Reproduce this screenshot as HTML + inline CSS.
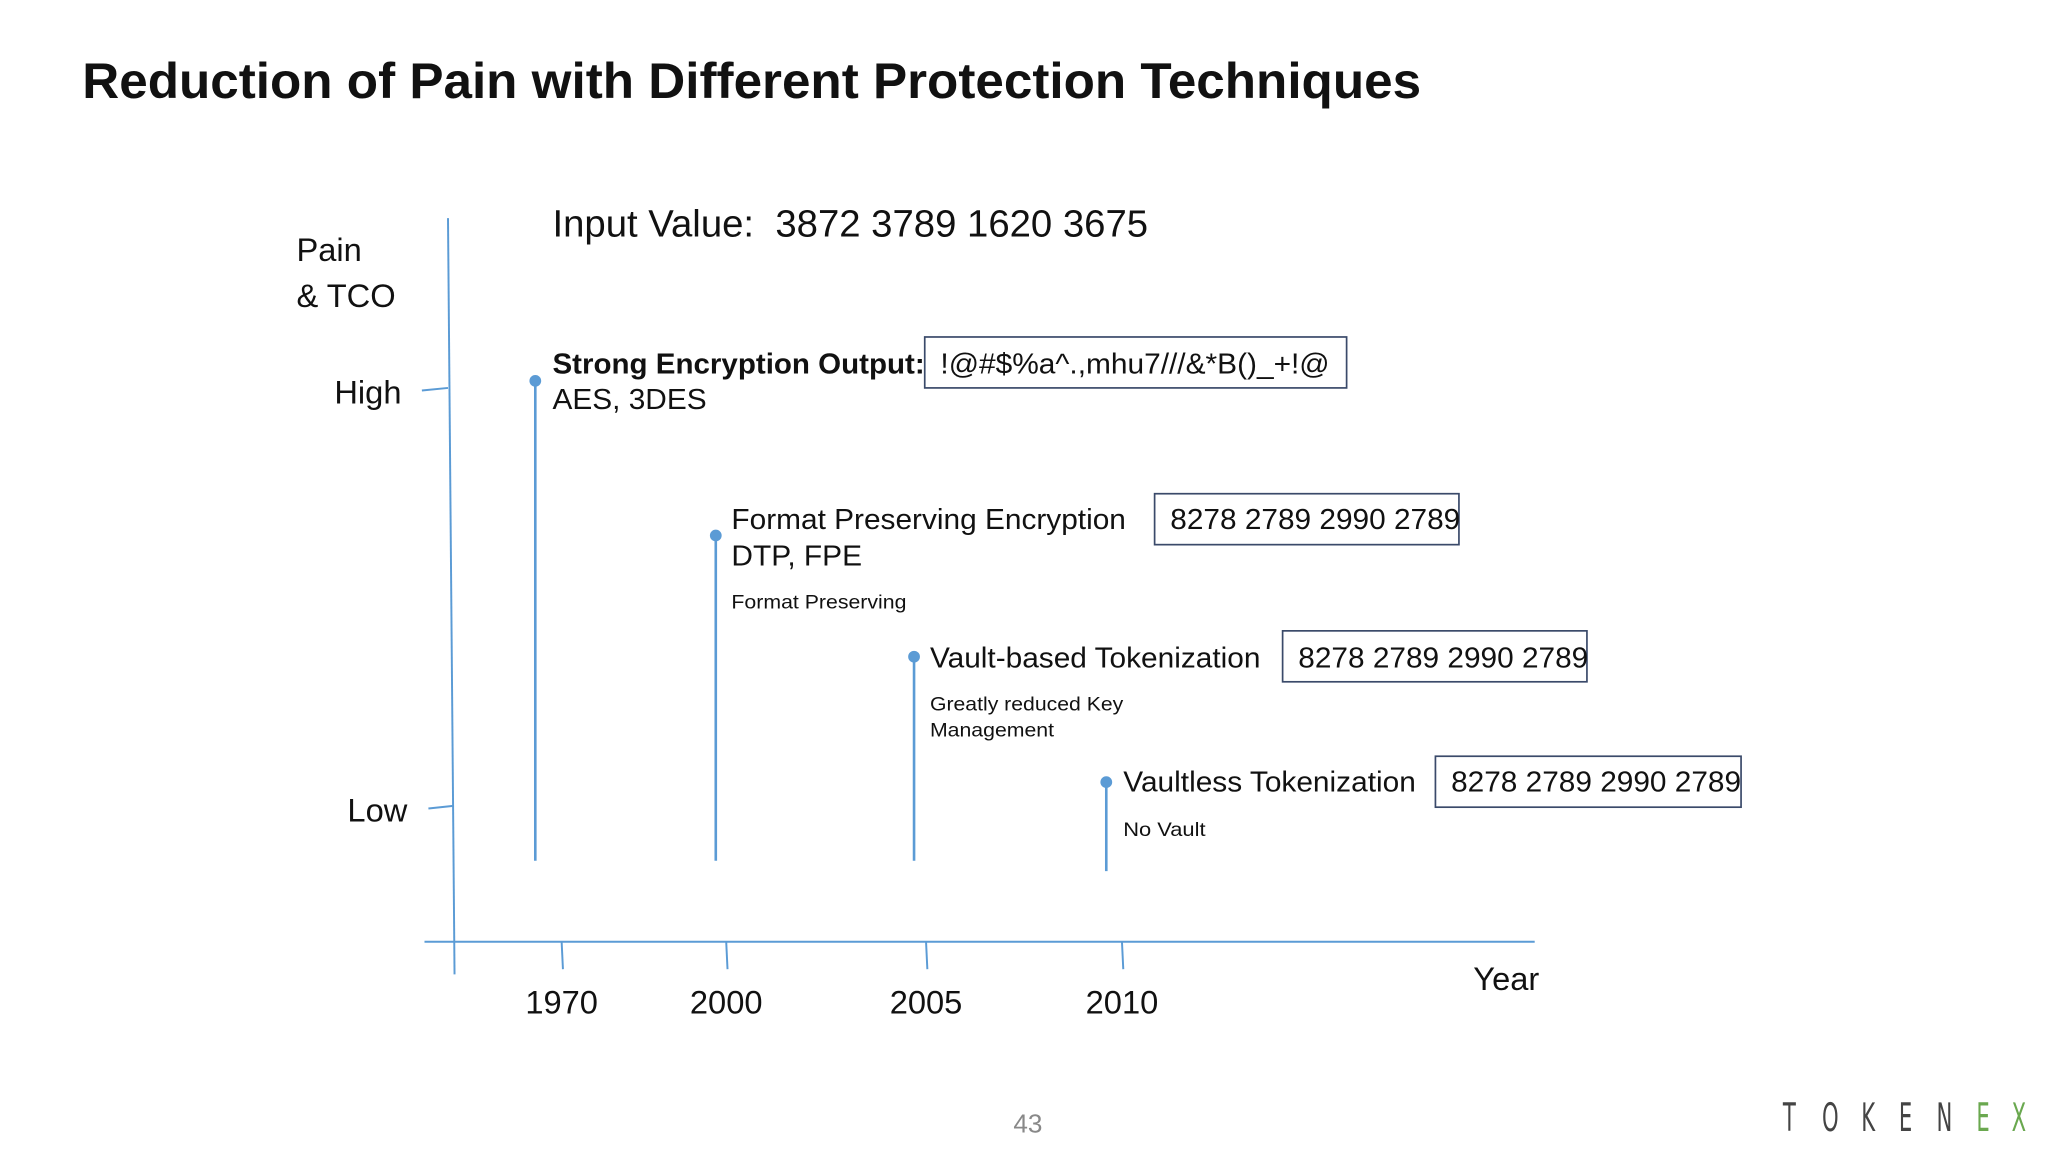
<!DOCTYPE html>
<html><head><meta charset="utf-8"><style>
html,body{margin:0;padding:0;background:#fff}
svg{display:block}
text{font-family:"Liberation Sans",sans-serif;fill:#111}
</style></head><body>
<svg id="chart" width="2048" height="1152" viewBox="0 0 1568 882" xmlns="http://www.w3.org/2000/svg">
<rect x="0" y="0" width="1568" height="882" fill="#fff"/>
<text x="63" y="75" font-size="38" font-weight="bold" textLength="1025" lengthAdjust="spacingAndGlyphs">Reduction of Pain with Different Protection Techniques</text>
<g id="axes" stroke="#5b9bd5" stroke-width="1.5" fill="none">
<line x1="343" y1="167" x2="348" y2="746"/>
<line x1="325" y1="721" x2="1175" y2="721"/>
<line x1="323" y1="299" x2="343" y2="297"/>
<line x1="328" y1="619" x2="347" y2="617"/>
</g>
<text font-size="25"><tspan x="227" y="200">Pain</tspan><tspan x="227" y="235">&amp; TCO</tspan></text>
<text x="256" y="309" font-size="25">High</text>
<text x="266" y="629" font-size="25">Low</text>
<text x="1128" y="758" font-size="25">Year</text>
<text x="423" y="181" font-size="29" textLength="456" lengthAdjust="spacingAndGlyphs">Input Value:&#160; 3872 3789 1620 3675</text>
<g id="marks"></g>
<g id="annotations">
<text x="423" y="286" font-size="22" font-weight="bold" textLength="285" lengthAdjust="spacingAndGlyphs">Strong Encryption Output:</text>
<text x="423" y="313" font-size="22" textLength="118" lengthAdjust="spacingAndGlyphs">AES, 3DES</text>
<rect x="708" y="258" width="323" height="39" fill="none" stroke="#3a4a6a" stroke-width="1.3"/>
<text x="720" y="286" font-size="22" textLength="298" lengthAdjust="spacingAndGlyphs">!@#$%a^.,mhu7///&amp;*B()_+!@</text>

<text x="560" y="405" font-size="22" textLength="302" lengthAdjust="spacingAndGlyphs">Format Preserving Encryption</text>
<text x="560" y="433" font-size="22" textLength="100" lengthAdjust="spacingAndGlyphs">DTP, FPE</text>
<text x="560" y="466" font-size="15" textLength="134" lengthAdjust="spacingAndGlyphs">Format Preserving</text>
<rect x="884" y="378" width="233" height="39" fill="none" stroke="#3a4a6a" stroke-width="1.3"/>
<text x="896" y="405" font-size="22" textLength="222" lengthAdjust="spacingAndGlyphs">8278 2789 2990 2789</text>

<text x="712" y="511" font-size="22" textLength="253" lengthAdjust="spacingAndGlyphs">Vault-based Tokenization</text>
<text font-size="15"><tspan x="712" y="544" textLength="148" lengthAdjust="spacingAndGlyphs">Greatly reduced Key</tspan><tspan x="712" y="564" textLength="95" lengthAdjust="spacingAndGlyphs">Management</tspan></text>
<rect x="982" y="483" width="233" height="39" fill="none" stroke="#3a4a6a" stroke-width="1.3"/>
<text x="994" y="511" font-size="22" textLength="222" lengthAdjust="spacingAndGlyphs">8278 2789 2990 2789</text>

<text x="860" y="606" font-size="22" textLength="224" lengthAdjust="spacingAndGlyphs">Vaultless Tokenization</text>
<text x="860" y="640" font-size="15" textLength="63" lengthAdjust="spacingAndGlyphs">No Vault</text>
<rect x="1099" y="579" width="234" height="39" fill="none" stroke="#3a4a6a" stroke-width="1.3"/>
<text x="1111" y="606" font-size="22" textLength="222" lengthAdjust="spacingAndGlyphs">8278 2789 2990 2789</text>
</g>
<text x="787" y="867" font-size="20" text-anchor="middle" style="fill:#888">43</text>
<text y="866" font-size="30" style="fill:#444;font-family:'DejaVu Sans Condensed','Liberation Sans',sans-serif;font-weight:normal" transform="translate(1365 0) scale(0.6 1) translate(-1365 0)"><tspan x="1365">T</tspan><tspan x="1415">O</tspan><tspan x="1465">K</tspan><tspan x="1513">E</tspan><tspan x="1561">N</tspan><tspan x="1612" style="fill:#6aa84f">E</tspan><tspan x="1657" style="fill:#6aa84f">X</tspan></text>
</svg>
<script>
const categories = ["1970", "2000", "2005", "2010"];
const techniqueYears = [1965.2, 1998.1, 2004.7, 2009.6];
const painValues = [10.2, 6.5, 3.6, 0.6];
const yTickValues = [0, 10];

const NS = "http://www.w3.org/2000/svg";
const bandPositions = [430, 556, 709, 859];
function xTick(i) { return bandPositions[i]; }
function xYear(yr) {
  const yrs = categories.map(Number);
  let i = 0;
  while (i < yrs.length - 2 && yr > yrs[i + 1]) i++;
  const t = (yr - yrs[i]) / (yrs[i + 1] - yrs[i]);
  return bandPositions[i] + t * (bandPositions[i + 1] - bandPositions[i]);
}
function yScale(v) { return 618 - v * 32; }
const marks = document.getElementById("marks");
const axes = document.getElementById("axes");
categories.forEach((c, i) => {
  const tx = xTick(i);
  const tick = document.createElementNS(NS, "line");
  tick.setAttribute("x1", tx); tick.setAttribute("y1", 721);
  tick.setAttribute("x2", tx + 1); tick.setAttribute("y2", 742);
  
  
  axes.appendChild(tick);
  const lbl = document.createElementNS(NS, "text");
  lbl.setAttribute("x", tx); lbl.setAttribute("y", 776);
  lbl.setAttribute("font-size", "25"); lbl.setAttribute("text-anchor", "middle");
  lbl.textContent = c;
  
  
  document.getElementById("chart").appendChild(lbl);
});
techniqueYears.forEach((yr, i) => {
  const sx = xYear(yr);
  const y = yScale(painValues[i]);
  const stem = document.createElementNS(NS, "line");
  stem.setAttribute("x1", sx); stem.setAttribute("y1", y);
  stem.setAttribute("x2", sx); stem.setAttribute("y2", i === 3 ? 667 : 659);
  stem.setAttribute("stroke", "#5b9bd5"); stem.setAttribute("stroke-width", "2");
  
  
  marks.appendChild(stem);
  const dot = document.createElementNS(NS, "circle");
  dot.setAttribute("cx", sx); dot.setAttribute("cy", y); dot.setAttribute("r", "4.5");
  dot.setAttribute("fill", "#5b9bd5");
  
  
  marks.appendChild(dot);
});
</script>
</body></html>
